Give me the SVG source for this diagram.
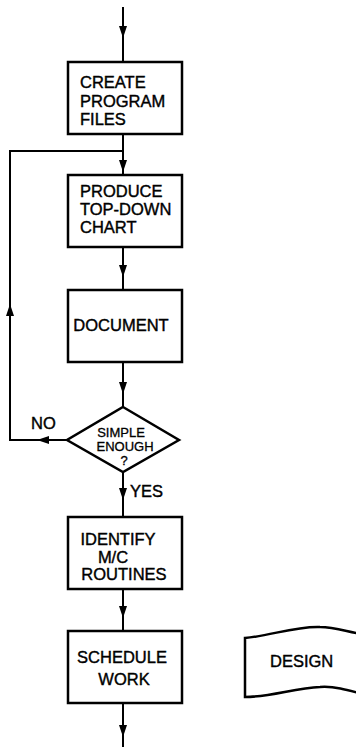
<svg xmlns="http://www.w3.org/2000/svg" width="356" height="747" viewBox="0 0 356 747">
<style>
.box{fill:#fff;stroke:#000;stroke-width:2.5}
.ln{fill:none;stroke:#000;stroke-width:2}
.t{font-family:"Liberation Sans",Arial,sans-serif;font-size:16.5px;fill:#000;stroke:#000;stroke-width:0.4}
.s{font-family:"Liberation Sans",Arial,sans-serif;font-size:13px;fill:#000;stroke:#000;stroke-width:0.3;text-anchor:middle}
.c{text-anchor:middle}
</style>
<defs>
<marker id="ah" markerUnits="userSpaceOnUse" markerWidth="14" markerHeight="10" refX="12" refY="4" orient="auto">
<path d="M0,0 L12,4 L0,8 Z" fill="#000"/>
</marker>
</defs>
<rect width="356" height="747" fill="#fff"/>
<g id="connectors">
<path class="ln" d="M123,7 L123,38 L123,62" marker-mid="url(#ah)"/>
<path class="ln" d="M123,134 L123,172 L123,175" marker-mid="url(#ah)"/>
<path class="ln" d="M123,247 L123,277 L123,290" marker-mid="url(#ah)"/>
<path class="ln" d="M123,362 L123,394 L123,407" marker-mid="url(#ah)"/>
<path class="ln" d="M123,472 L123,500 L123,517" marker-mid="url(#ah)"/>
<path class="ln" d="M123,589 L123,618 L123,631" marker-mid="url(#ah)"/>
<path class="ln" d="M123,703 L123,737 L123,747" marker-mid="url(#ah)"/>
<path class="ln" d="M67,440 L37,440" marker-end="url(#ah)"/>
<path class="ln" d="M37,440 L10,440 L10,304" marker-end="url(#ah)"/>
<path class="ln" d="M10,304 L10,151 L123,151"/>
<text class="t" x="31" y="429">NO</text>
<text class="t" x="130" y="497">YES</text>
</g>
<g id="n1">
<rect class="box" x="68" y="62" width="114" height="72"/>
<text class="t" x="80" y="88">CREATE</text>
<text class="t" x="80" y="107">PROGRAM</text>
<text class="t" x="80" y="125">FILES</text>
</g>
<g id="n2">
<rect class="box" x="68" y="175" width="114" height="72"/>
<text class="t" x="80" y="197">PRODUCE</text>
<text class="t" x="80" y="215">TOP-DOWN</text>
<text class="t" x="80" y="233">CHART</text>
</g>
<g id="n3">
<rect class="box" x="68" y="290" width="114" height="72"/>
<text class="t c" x="121" y="331">DOCUMENT</text>
</g>
<g id="n4">
<polygon class="box" points="123,407 179,440 123,472 67,440"/>
<text class="s" x="121" y="437">SIMPLE</text>
<text class="s" x="125" y="451">ENOUGH</text>
<text class="s" x="124" y="465">?</text>
</g>
<g id="n5">
<rect class="box" x="68" y="517" width="114" height="72"/>
<text class="t c" x="118" y="545">IDENTIFY</text>
<text class="t c" x="113" y="563">M/C</text>
<text class="t c" x="124" y="580">ROUTINES</text>
</g>
<g id="n6">
<rect class="box" x="68" y="631" width="114" height="72"/>
<text class="t c" x="122" y="663">SCHEDULE</text>
<text class="t c" x="124" y="685">WORK</text>
</g>
<g id="n7">
<path class="box" stroke-width="2" d="M245,638 C270,636 295,626 320,627 C335,627 348,632 362,634 L362,694 C348,690 335,686 320,687 C295,688 270,697 245,697 Z"/>
<text class="t" x="270" y="667">DESIGN</text>
</g>
</svg>
